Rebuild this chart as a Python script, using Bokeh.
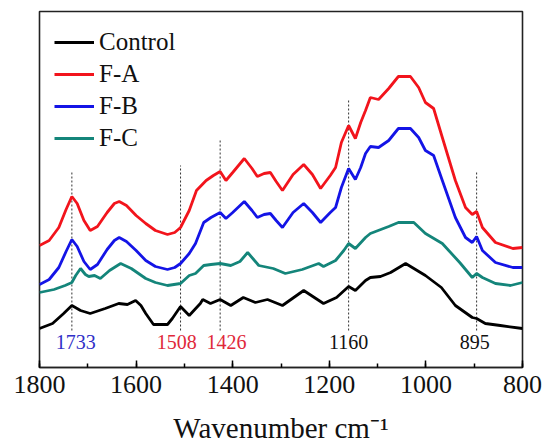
from bokeh.plotting import figure
from bokeh.models import Range1d, SingleIntervalTicker
from bokeh.core.properties import value
from bokeh.embed import file_html
from bokeh.resources import INLINE

# ---- data (arbitrary absorbance units, offset-stacked as in the figure) ----
wn_red = [1800, 1780, 1760, 1745, 1733, 1722, 1708, 1695, 1680, 1660, 1645, 1635, 1620, 1600, 1580,
          1560, 1535, 1520, 1508, 1490, 1475, 1455, 1440, 1426, 1414, 1400, 1376, 1360, 1349, 1335,
          1322, 1310, 1297, 1275, 1253, 1235, 1218, 1198, 1187, 1175, 1160, 1146, 1135, 1125, 1115,
          1098, 1077, 1057, 1032, 1015, 1001, 984, 966, 939, 918, 904, 895, 883, 856, 820, 800]
fa = [122, 127, 140, 158, 171, 164, 147, 137, 141, 155, 164, 166, 162, 152, 144,
      137, 133, 135, 140, 157, 177, 187, 192, 196, 187, 195, 209, 199, 191, 194,
      195, 186, 177, 193, 203, 193, 179, 192, 200, 225, 242, 229, 245, 257, 270,
      268, 279, 291, 291, 280, 265, 259, 230, 187, 160, 153, 156, 140, 125, 119, 120]

wn_blue = [1800, 1780, 1760, 1745, 1733, 1722, 1708, 1695, 1680, 1660, 1645, 1635, 1620, 1600, 1580,
           1560, 1535, 1520, 1508, 1490, 1477, 1460, 1445, 1426, 1414, 1400, 1376, 1360, 1349, 1335,
           1322, 1310, 1297, 1275, 1253, 1235, 1218, 1198, 1187, 1175, 1160, 1146, 1135, 1125, 1115,
           1098, 1077, 1057, 1032, 1015, 1001, 984, 966, 939, 918, 904, 895, 883, 856, 820, 800]
fb = [83, 88, 100, 116, 128, 121, 106, 98, 103, 118, 127, 130, 126, 117, 107,
      101, 98, 100, 104, 114, 124, 145, 150, 155, 149, 155, 166, 157, 150, 153,
      154, 147, 140, 155, 164, 155, 145, 155, 160, 180, 199, 188, 200, 214, 221,
      220, 227, 239, 239, 230, 217, 212, 187, 150, 130, 125, 131, 117, 105, 100, 100]

wn_teal = [1800, 1770, 1747, 1733, 1725, 1715, 1705, 1698, 1686, 1674, 1655, 1632, 1610, 1580, 1560,
           1535, 1508, 1490, 1477, 1460, 1445, 1426, 1404, 1385, 1369, 1346, 1316, 1291, 1256, 1222,
           1212, 1187, 1170, 1160, 1146, 1125, 1115, 1077, 1057, 1025, 1001, 966, 930, 904, 895,
           883, 856, 825, 800]
fc = [75, 78, 82, 85, 92, 99, 93, 91, 92, 89, 97, 104, 99, 89, 85,
      82, 84, 92, 94, 102, 103, 104, 102, 106, 115, 102, 99, 94, 98, 104,
      101, 107, 117, 124, 119, 130, 134, 141, 145, 145, 134, 124, 105, 90, 94,
      90, 84, 82, 85]

wn_black = [1800, 1773, 1750, 1733, 1715, 1695, 1664, 1636, 1618, 1601, 1590, 1580, 1564, 1535, 1525,
            1508, 1490, 1467, 1462, 1446, 1426, 1404, 1378, 1353, 1328, 1297, 1253, 1212, 1185, 1160,
            1146, 1125, 1115, 1094, 1073, 1042, 1001, 968, 939, 904, 895, 877, 846, 800]
control = [39, 44, 54, 62, 57, 54, 59, 64, 63, 67, 62, 54, 43, 43, 49,
           61, 52, 64, 68, 64, 68, 62, 70, 65, 68, 62, 77, 64, 70, 81,
           77, 87, 90, 91, 95, 104, 92, 80, 62, 50, 49, 44, 42, 39]

marker_wn = [1733, 1508, 1426, 1160, 895]
marker_text = ["1733", "1508", "1426", "1160", "895"]
marker_label_wn = [1725, 1516, 1413, 1160, 899]
marker_top = [196, 202, 229, 269, 197]
marker_bottom = [37, 37, 37, 37, 37]
marker_label_y = [26, 26, 26, 26, 26]
marker_colors = ["#3030c8", "#e0283a", "#e0283a", "#111111", "#111111"]

x_title = "Wavenumber cm\u207b\u00b9"

SERIF = "Liberation Serif"

p = figure(width=542, height=446, output_backend="svg", toolbar_location=None,
           x_range=Range1d(1800, 800), y_range=Range1d(0, 356),
           min_border_left=39, min_border_right=20, min_border_top=11, min_border_bottom=79)
p.xgrid.visible = False
p.ygrid.visible = False
p.yaxis.visible = False
p.outline_line_color = "#222222"
p.outline_line_width = 1.6
p.background_fill_color = "white"
p.border_fill_color = "white"

# marker guide lines
p.segment(x0=marker_wn, y0=marker_bottom, x1=marker_wn, y1=marker_top,
          line_color="#333333", line_width=1, line_dash="2 2")

lw = 2.8
p.line(wn_black, control, line_color="black", line_width=lw, legend_label="Control")
p.line(wn_red, fa, line_color="#f2141c", line_width=lw, legend_label="F-A")
p.line(wn_blue, fb, line_color="#1414e6", line_width=lw, legend_label="F-B")
p.line(wn_teal, fc, line_color="#14857a", line_width=lw, legend_label="F-C")

p.text(x=marker_label_wn, y=marker_label_y, text=marker_text, text_color=marker_colors,
       text_font=value(SERIF), text_font_size="20px", text_align="center",
       text_baseline="middle")

# x axis
ax = p.xaxis[0]
ax.ticker = SingleIntervalTicker(interval=200, num_minor_ticks=2)
ax.major_label_text_font = SERIF
ax.major_label_text_font_size = "26px"
ax.major_label_text_color = "#111111"
ax.major_label_standoff = 8
ax.major_tick_in = 7
ax.major_tick_out = 0
ax.minor_tick_in = 4
ax.minor_tick_out = 0
ax.major_tick_line_width = 1.5
ax.minor_tick_line_width = 1.5
ax.axis_line_width = 1.6
ax.axis_line_color = "#222222"
ax.axis_label = x_title
ax.axis_label_text_font = SERIF
ax.axis_label_text_font_size = "29px"
ax.axis_label_text_font_style = "normal"
ax.axis_label_text_color = "#111111"
ax.axis_label_standoff = 16

lg = p.legend[0]
lg.location = "top_left"
lg.margin = 0
lg.padding = 15
lg.spacing = 0
lg.label_height = 32
lg.glyph_height = 32
lg.glyph_width = 40
lg.label_standoff = 5
lg.label_text_font = SERIF
lg.label_text_font_size = "25px"
lg.label_text_color = "#111111"
lg.background_fill_alpha = 0
lg.border_line_alpha = 0

open("out.html", "w").write(file_html(p, INLINE))
